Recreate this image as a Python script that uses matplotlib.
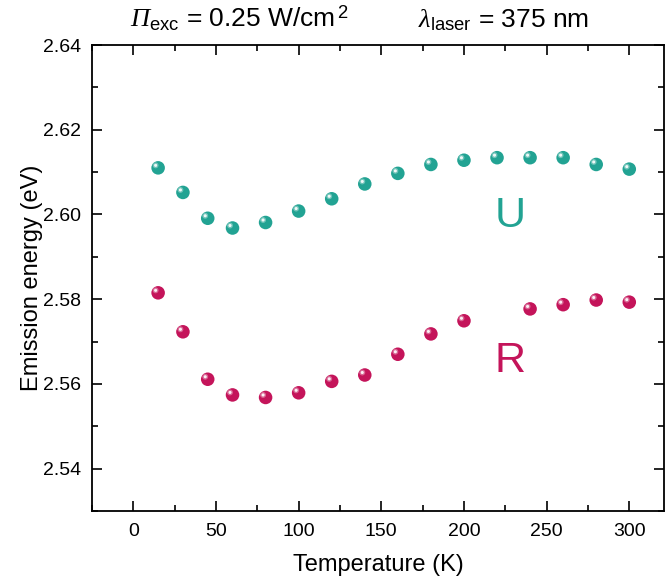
import matplotlib
matplotlib.use("Agg")
import matplotlib.pyplot as plt
from matplotlib.ticker import MultipleLocator
from matplotlib.transforms import offset_copy

plt.rcParams['font.family'] = ['Liberation Sans', 'DejaVu Sans']
plt.rcParams['mathtext.fontset'] = 'custom'
plt.rcParams['mathtext.rm'] = 'Liberation Sans'
plt.rcParams['mathtext.it'] = 'Liberation Serif:italic'
plt.rcParams['mathtext.sf'] = 'Liberation Serif:italic'

# temperatures (K) and emission energies (eV)
temp_u = [15, 30, 45, 60, 80, 100, 120, 140, 160, 180, 200, 220, 240, 260, 280, 300]
energy_u = [2.6110, 2.6052, 2.5991, 2.5968, 2.5981, 2.6008, 2.6037, 2.6072,
            2.6097, 2.6118, 2.6128, 2.6134, 2.6134, 2.6134, 2.6118, 2.6107]
temp_r = [15, 30, 45, 60, 80, 100, 120, 140, 160, 180, 200, 240, 260, 280, 300]
energy_r = [2.5815, 2.5723, 2.5611, 2.5574, 2.5568, 2.5579, 2.5606, 2.5621,
            2.5670, 2.5718, 2.5749, 2.5777, 2.5787, 2.5798, 2.5793]

col_u = "#22a393"
col_r = "#c4145a"

fig = plt.figure(figsize=(6.65, 5.81), dpi=100)
ax = fig.add_axes([92/665, 1 - 511/581, 572/665, 466/581])

shift = offset_copy(ax.transData, fig=fig, x=-2.5, y=2.5, units='dots')

def spheres(x, y, col):
    # base ball + small offset highlight to mimic the shaded markers
    ax.scatter(x, y, s=95, color=col, edgecolors='none', zorder=3)
    ax.scatter(x, y, s=18, color='white', alpha=0.35, edgecolors='none', zorder=4,
               transform=shift)
    ax.scatter(x, y, s=5, color='white', alpha=0.9, edgecolors='none', zorder=5,
               transform=shift)

spheres(temp_u, energy_u, col_u)
spheres(temp_r, energy_r, col_r)

ax.text(228, 2.5997, "U", color=col_u, fontsize=31, ha='center', va='center')
ax.text(228, 2.5653, "R", color=col_r, fontsize=31, ha='center', va='center')

ax.set_xlim(-25, 321)
ax.set_ylim(2.53, 2.64)
ax.xaxis.set_major_locator(MultipleLocator(50))
ax.xaxis.set_minor_locator(MultipleLocator(25))
ax.yaxis.set_major_locator(MultipleLocator(0.02))
ax.yaxis.set_minor_locator(MultipleLocator(0.01))
ax.yaxis.set_major_formatter(matplotlib.ticker.FormatStrFormatter('%.2f'))
ax.tick_params(which='both', direction='in', top=True, right=True, labelsize=14, width=1.2)
ax.tick_params(which='major', length=7)
ax.tick_params(which='minor', length=4)
ax.tick_params(axis='x', pad=9)
ax.tick_params(axis='y', pad=8)
for s in ax.spines.values():
    s.set_linewidth(1.3)

ax.set_xlabel("Temperature (K)", fontsize=17, labelpad=10)
ax.set_ylabel("Emission energy (eV)", fontsize=17, labelpad=0)

fig.text(130/665, 1 - 27/581, r"$\mathsf{Π}_{\rm exc}$ = 0.25 W/cm$^{\,2}$", fontsize=19,
         ha='left', va='baseline')
fig.text(418/665, 1 - 27/581, r"$\mathit{λ}_{\rm laser}$ = 375 nm", fontsize=19,
         ha='left', va='baseline')

fig.savefig("out.png", dpi=100)
